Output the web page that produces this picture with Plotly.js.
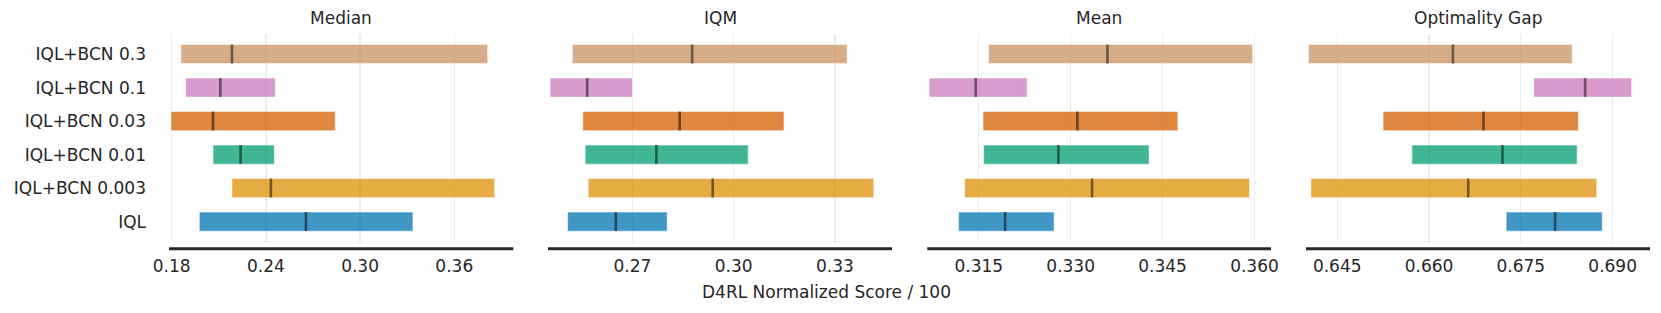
<!DOCTYPE html>
<html>
<head>
<meta charset="utf-8">
<script src="https://cdn.plot.ly/plotly-3.0.1.min.js"></script>
<style>html,body{margin:0;padding:0;background:#fff;}#chart{width:1661px;height:313px;}</style>
</head>
<body>
<div id="chart"></div>
<script>
// Categories, bottom to top
const categories = ["IQL", "IQL+BCN 0.003", "IQL+BCN 0.01", "IQL+BCN 0.03", "IQL+BCN 0.1", "IQL+BCN 0.3"];
const colors = ["#0173b2", "#de8f05", "#029e73", "#d55e00", "#cc78bc", "#ca9161"];
const panelTitles = ["Median", "IQM", "Mean", "Optimality Gap"];

// Median
const medianLow   = [0.1976, 0.2184, 0.2063, 0.1796, 0.1889, 0.1859];
const medianHigh  = [0.3337, 0.3857, 0.2454, 0.2842, 0.2460, 0.3813];
const medianPoint = [0.2655, 0.2432, 0.2239, 0.2063, 0.2110, 0.2184];
// IQM
const iqmLow   = [0.2508, 0.2569, 0.2560, 0.2553, 0.2456, 0.2522];
const iqmHigh  = [0.2803, 0.3415, 0.3043, 0.3149, 0.2700, 0.3336];
const iqmPoint = [0.2651, 0.2938, 0.2771, 0.2840, 0.2566, 0.2877];
// Mean
const meanLow   = [0.3117, 0.3127, 0.3158, 0.3157, 0.3069, 0.3166];
const meanHigh  = [0.3273, 0.3592, 0.3428, 0.3475, 0.3229, 0.3597];
const meanPoint = [0.3193, 0.3335, 0.3280, 0.3311, 0.3145, 0.3360];
// Optimality Gap
const gapLow   = [0.6726, 0.6407, 0.6572, 0.6525, 0.6771, 0.6403];
const gapHigh  = [0.6883, 0.6874, 0.6842, 0.6844, 0.6931, 0.6834];
const gapPoint = [0.6806, 0.6664, 0.6720, 0.6689, 0.6855, 0.6639];

// Tick labels
const medianTicks = [0.18, 0.24, 0.30, 0.36];
const medianTickText = ["0.18", "0.24", "0.30", "0.36"];
const iqmTicks = [0.27, 0.30, 0.33];
const iqmTickText = ["0.27", "0.30", "0.33"];
const meanTicks = [0.315, 0.330, 0.345, 0.360];
const meanTickText = ["0.315", "0.330", "0.345", "0.360"];
const gapTicks = [0.645, 0.660, 0.675, 0.690];
const gapTickText = ["0.645", "0.660", "0.675", "0.690"];

const xTitle = "D4RL Normalized Score / 100";

const panels = [
  {low: medianLow, high: medianHigh, point: medianPoint, ticks: medianTicks, text: medianTickText, range: [0.1783, 0.3976]},
  {low: iqmLow, high: iqmHigh, point: iqmPoint, ticks: iqmTicks, text: iqmTickText, range: [0.2450, 0.3469]},
  {low: meanLow, high: meanHigh, point: meanPoint, ticks: meanTicks, text: meanTickText, range: [0.3066, 0.3627]},
  {low: gapLow, high: gapHigh, point: gapPoint, ticks: gapTicks, text: gapTickText, range: [0.6399, 0.6961]}
];

const W = 1661, H = 313;
const pxDomains = [[169, 513.3], [548, 892], [927.3, 1271], [1306, 1650]];
const plotTop = 34.3, plotBottom = 241.7, axisLineY = 248.7;
const FONT = "DejaVu Sans, Liberation Sans, sans-serif";
const TXT = "#262626";

const traces = [];
const layout = {
  width: W, height: H,
  margin: {l: 0, r: 0, t: 0, b: 0},
  paper_bgcolor: "#fff", plot_bgcolor: "#fff",
  showlegend: false,
  font: {family: FONT, size: 17, color: TXT},
  annotations: [], shapes: []
};

panels.forEach((p, i) => {
  const xa = i === 0 ? "x" : "x" + (i + 1);
  const ya = i === 0 ? "y" : "y" + (i + 1);
  traces.push({
    type: "bar", orientation: "h", xaxis: xa, yaxis: ya,
    y: categories,
    base: p.low,
    x: p.high.map((h, k) => h - p.low[k]),
    width: 0.57,
    marker: {color: colors, opacity: 0.75, line: {color: "rgba(255,255,255,0.55)", width: 1}},
    hoverinfo: "skip"
  });
  traces.push({
    type: "scatter", mode: "markers", xaxis: xa, yaxis: ya,
    y: categories, x: p.point,
    marker: {symbol: "line-ns-open", size: 13.6, color: "rgba(0,0,0,0.5)", line: {width: 2.6, color: "rgba(0,0,0,0.5)"}},
    hoverinfo: "skip"
  });
  const d = [pxDomains[i][0] / W, pxDomains[i][1] / W];
  const xKey = i === 0 ? "xaxis" : "xaxis" + (i + 1);
  const yKey = i === 0 ? "yaxis" : "yaxis" + (i + 1);
  layout[xKey] = {
    domain: d, anchor: ya, range: p.range,
    tickmode: "array", tickvals: p.ticks, ticktext: p.text,
    showgrid: true, gridcolor: "#ececec", gridwidth: 1.3,
    zeroline: false, showline: false, ticks: "",
    ticklabelstandoff: 12,
    tickfont: {family: FONT, size: 17, color: TXT}
  };
  layout[yKey] = {
    domain: [1 - plotBottom / H, 1 - plotTop / H], anchor: xa,
    type: "category", categoryorder: "array", categoryarray: categories,
    range: [-0.6, 5.59],
    showgrid: false, zeroline: false, showline: false, ticks: "",
    showticklabels: i === 0,
    ticklabelstandoff: 22,
    tickfont: {family: FONT, size: 17, color: TXT}
  };
  layout.annotations.push({
    xref: "paper", yref: "paper", x: (d[0] + d[1]) / 2, y: 1 - 18 / H,
    xanchor: "center", yanchor: "middle", showarrow: false,
    text: panelTitles[i], font: {family: FONT, size: 17, color: TXT}
  });
  layout.shapes.push({
    type: "line", xref: "paper", yref: "paper",
    x0: d[0], x1: d[1], y0: 1 - axisLineY / H, y1: 1 - axisLineY / H,
    line: {color: "#262626", width: 3}
  });
});

layout.annotations.push({
  xref: "paper", yref: "paper", x: 826.7 / W, y: 1 - 291.7 / H,
  xanchor: "center", yanchor: "middle", showarrow: false,
  text: xTitle, font: {family: FONT, size: 17, color: TXT}
});

Plotly.newPlot("chart", traces, layout, {staticPlot: true, displayModeBar: false});
</script>
</body>
</html>
